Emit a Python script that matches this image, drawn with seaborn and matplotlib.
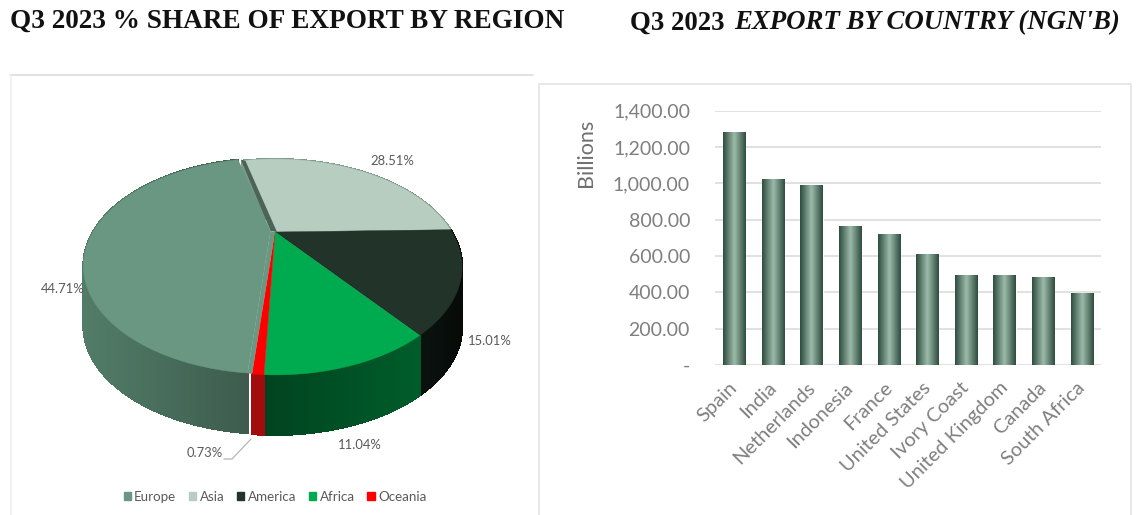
import numpy as np
import pandas as pd
import matplotlib
matplotlib.use("Agg")
import matplotlib.pyplot as plt
from matplotlib.colors import LinearSegmentedColormap, to_rgb
from matplotlib.collections import PolyCollection
from matplotlib.lines import Line2D
from matplotlib.patches import Patch, Rectangle
from matplotlib.transforms import ScaledTranslation
import seaborn as sns

# Regional shares, in clockwise drawing order from the top of the pie
regions = ["Asia", "America", "Africa", "Oceania", "Europe"]
shares = [28.51, 15.01, 11.04, 0.73, 44.71]
legend_order = ["Europe", "Asia", "America", "Africa", "Oceania"]

# Exports by country, NGN billions
countries = ["Spain", "India", "Netherlands", "Indonesia", "France",
             "United States", "Ivory Coast", "United Kingdom", "Canada", "South Africa"]
exports = [1281, 1022, 991, 765, 721, 609, 495, 495, 486, 394]
y_ticks = [0, 200, 400, 600, 800, 1000, 1200, 1400]

top_colors = {"Europe": "#6a9782", "Asia": "#b6cdc0", "America": "#22332a",
              "Africa": "#00ab4f", "Oceania": "#ff0000"}
wall_colors = {"Europe": ("#527c68", "#3d5c4d"), "Asia": ("#7f9a8b", "#7f9a8b"),
               "America": ("#0b130f", "#060a08"), "Africa": ("#00441f", "#005d2b"),
               "Oceania": ("#a30c0c", "#a30c0c")}

W, H = 1136, 515
sns.set_theme(style="white")
plt.rcParams["font.family"] = ["Lato", "DejaVu Sans"]
fig = plt.figure(figsize=(W / 100, H / 100), dpi=100, facecolor="white")


def fx(x):
    return x / W


def fy(y):
    return 1 - y / H


def axes_box(x0, y0, x1, y1):
    return [fx(x0), fy(y1), (x1 - x0) / W, (y1 - y0) / H]


# Panel frames
fig.add_artist(Line2D([fx(10), fx(533)], [fy(75), fy(75)], color="#dcdcdc", lw=1.2))
fig.add_artist(Line2D([fx(11), fx(11)], [fy(75), fy(515)], color="#efefef", lw=1.2))
fig.add_artist(Rectangle((fx(539), fy(520)), 592 / W, 436 / H, fill=False,
                         edgecolor="#e4e4e4", lw=1.2, transform=fig.transFigure))

# Panel titles
title_font = dict(family="Liberation Serif", weight="bold", color="#111111", va="center")
fig.text(fx(10), fy(21), "Q3 2023 % SHARE OF EXPORT BY REGION", fontsize=19.6, **title_font)
fig.text(fx(630), fy(23), "Q3 2023 ", fontsize=19.4, **title_font)
fig.text(fx(734), fy(23), "EXPORT BY COUNTRY (NGN'B)", fontsize=19.4, style="italic", **title_font)

# Pie in perspective: a unit circle projected so the near side looks larger
ax_pie = fig.add_axes(axes_box(11, 76, 533, 515))
APEX_X, APEX_Y = 275, 232
RX, RY, TILT, DEPTH = 177, 96.6, 0.324, 60
ax_pie.set_xlim(11 - APEX_X, 533 - APEX_X)
ax_pie.set_ylim(APEX_Y - 515, APEX_Y - 76)
ax_pie.axis("off")


def project(theta):
    u, v = np.sin(theta), np.cos(theta)
    w = 1 + TILT * v
    return RX * u / w, RY * v / w


start = np.deg2rad(-14.0)
edges = start + np.deg2rad(np.cumsum([0] + shares) * 3.6)
spans = {name: (edges[i], edges[i + 1]) for i, name in enumerate(regions)}
offsets = {name: (0.0, 0.0) for name in regions}
offsets["Europe"] = (-4.5, 1.0)

# Extruded rim, shaded from the left of each slice to its right
for name in regions:
    a, b = spans[name]
    theta = np.linspace(a, b, max(8, int((b - a) * 60)))
    x, y = project(theta)
    x, y = x + offsets[name][0], y + offsets[name][1]
    left, right = x.min(), x.max()
    c0, c1 = np.array(to_rgb(wall_colors[name][0])), np.array(to_rgb(wall_colors[name][1]))
    quads, cols = [], []
    for i in range(len(theta) - 1):
        quads.append([(x[i], y[i]), (x[i + 1], y[i + 1]),
                      (x[i + 1], y[i + 1] - DEPTH), (x[i], y[i] - DEPTH)])
        t = ((x[i] + x[i + 1]) / 2 - left) / max(right - left, 1e-6)
        cols.append(c0 + (c1 - c0) * t)
    ax_pie.add_collection(PolyCollection(quads, facecolors=cols, edgecolors=cols,
                                         linewidths=0.8, antialiaseds=False))


def slice_outline(name):
    a, b = spans[name]
    x, y = project(np.linspace(a, b, max(8, int((b - a) * 60))))
    ox, oy = offsets[name]
    return np.r_[ox, x + ox], np.r_[oy, y + oy]


for name in ["Asia", "America", "Africa", "Oceania"]:
    sx, sy = slice_outline(name)
    ax_pie.fill(sx, sy, color=top_colors[name], lw=0.3)

# Pulled-out slice: its cut face beside Asia and a closing strip next to Oceania
ex, ey = slice_outline("Europe")
asia_x, asia_y = project(spans["Asia"][0])
ax_pie.fill([ex[0], ex[-1] + 3, asia_x + 3, 2], [ey[0], ey[-1], asia_y, 0], color="#4b6458", lw=0)
near_x, near_y = project(spans["Europe"][0])
ax_pie.fill([ex[0], ex[1], near_x, 0], [ey[0], ey[1], near_y, 0], color=top_colors["Europe"], lw=0)
ax_pie.fill(ex, ey, color=top_colors["Europe"], lw=0.3)

# Value labels
label_font = dict(fontsize=9.4, color="#595959", ha="center", va="center", stretch="condensed")
label_pos = {"Asia": (392, 161), "Europe": (63, 289), "America": (490, 341),
             "Africa": (360, 445), "Oceania": (205, 453)}
for name, share in zip(regions, shares):
    px, py = label_pos[name]
    fig.text(fx(px), fy(py), f"{share:.2f}%", **label_font)
fig.add_artist(Line2D([fx(224), fx(232), fx(251)], [fy(459), fy(459), fy(439)],
                      color="#b5b5b5", lw=0.9))

# Legend
handles = [Patch(color=top_colors[n], label=n) for n in legend_order]
fig.legend(handles=handles, loc="center", bbox_to_anchor=(fx(275), fy(497)), ncols=5,
           frameon=False, fontsize=9.6, labelcolor="#595959", handlelength=0.55,
           handleheight=0.55, handletextpad=0.25, columnspacing=0.95)

# Bar chart of exports by country
ax = fig.add_axes(axes_box(715, 110.7, 1101, 365))
data = pd.DataFrame({"country": countries, "export": exports})
sns.barplot(data=data, x="country", y="export", color="#5f8573", width=0.57,
            saturation=1, ax=ax, zorder=2)
ax.set_xlim(-0.5, 9.5)
ax.set_ylim(0, 1400)
ax.set_yticks(y_ticks)
ax.set_yticklabels([f"{t:,.2f}" if t else "-" for t in y_ticks], fontsize=14, color="#7f7f7f")
ax.set_xticks(range(len(countries)))
ax.set_xticklabels(countries, rotation=45, ha="right", rotation_mode="anchor",
                   fontsize=14.4, color="#7f7f7f")
ax.tick_params(axis="both", length=0)
ax.tick_params(axis="y", pad=18)
ax.tick_params(axis="x", pad=10)
label_shift = ScaledTranslation(-4 / 72, 0, fig.dpi_scale_trans)
for label in ax.get_xticklabels():
    label.set_transform(label.get_transform() + label_shift)
ax.set_xlabel("")
ax.set_ylabel("")
ax.grid(axis="y", color="#dcdcdc", lw=1.2, zorder=0)
ax.set_axisbelow(True)
for side in ["top", "right", "left", "bottom"]:
    ax.spines[side].set_visible(False)
fig.text(fx(586), fy(153), "Billions", rotation=90, fontsize=15.5, color="#6f6f6f",
         ha="center", va="center")

# Cylinder shading across every bar
shade = LinearSegmentedColormap.from_list("bar_shade", ["#2f4d3f", "#9cbbaa", "#2f4d3f"])
ramp = np.linspace(0, 1, 64).reshape(1, -1)
for bar in list(ax.patches):
    x0, w0, h0 = bar.get_x(), bar.get_width(), bar.get_height()
    im = ax.imshow(ramp, cmap=shade, extent=(x0, x0 + w0, 0, h0), aspect="auto", zorder=3)
    im.set_clip_path(bar)
ax.set_xlim(-0.5, 9.5)
ax.set_ylim(0, 1400)

fig.savefig("out.png", dpi=100, facecolor="white")
